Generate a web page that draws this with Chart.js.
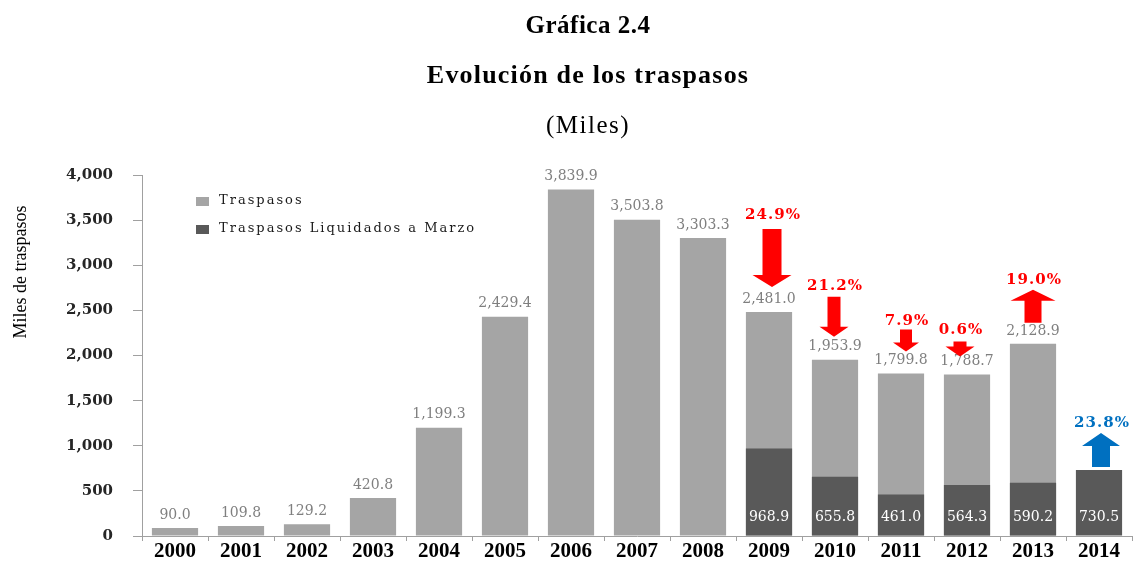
<!DOCTYPE html>
<html><head><meta charset="utf-8">
<script src="https://cdn.jsdelivr.net/npm/chart.js@4.4.0/dist/chart.umd.min.js"></script>
<style>
html,body{margin:0;padding:0;background:#fff;}
#wrap{position:relative;width:1135px;height:565px;overflow:hidden;}
#c{position:absolute;left:0;top:0;}
.t{position:absolute;left:588px;transform:translateX(-50%);font-family:"Liberation Serif",serif;color:#000;white-space:nowrap;line-height:1;}
#t1{top:12px;font-size:25px;font-weight:bold;letter-spacing:0.5px;}
#t2{top:62px;font-size:26px;font-weight:bold;letter-spacing:1.2px;}
#t3{top:112px;font-size:25px;letter-spacing:1.5px;}
</style></head><body>
<div id="wrap">
<canvas id="c" width="1135" height="565"></canvas>
<div class="t" id="t1">Gráfica 2.4</div>
<div class="t" id="t2">Evolución de los traspasos</div>
<div class="t" id="t3">(Miles)</div>
</div>
<script>
const years = ['2000','2001','2002','2003','2004','2005','2006','2007','2008','2009','2010','2011','2012','2013','2014'];
const traspasos = [90.0,109.8,129.2,420.8,1199.3,2429.4,3839.9,3503.8,3303.3,2481.0,1953.9,1799.8,1788.7,2128.9,null];
const liquidados = [null,null,null,null,null,null,null,null,null,968.9,655.8,461.0,564.3,590.2,730.5];
const yMin = 0, yMax = 4000, yStep = 500;
const changeYears = ['2009','2010','2011','2012','2013','2014'];
const changePct = ['24.9%','21.2%','7.9%','0.6%','19.0%','23.8%'];
const changeDir = ['down','down','down','down','up','up'];
const seriesNames = ['Traspasos','Traspasos Liquidados a Marzo'];
const yTitle = 'Miles de traspasos';

// arrow styling (pixels)
const arrowStyle = [
  {gap:25,len:58,head:12,sw:19,hw:39,dx:3,lg:14,color:'#FF0000'},
  {gap:23,len:40,head:10,sw:13,hw:29,dx:-1,lg:11,color:'#FF0000'},
  {gap:22,len:22,head:9,sw:12,hw:26,dx:5,lg:8,color:'#FF0000'},
  {gap:18,len:15,head:10,sw:13,hw:29,dx:-7,lg:11,color:'#FF0000'},
  {gap:21,len:33,head:11,sw:17,hw:45,dx:0,lg:10,color:'#FF0000'},
  {gap:3,len:34,head:13,sw:18,hw:38,dx:2,lg:10,color:'#0070C0'}
];

const fmt1 = new Intl.NumberFormat('en-US',{minimumFractionDigits:1,maximumFractionDigits:1});
const fmt0 = new Intl.NumberFormat('en-US');

const decor = {
  id:'decor',
  afterDatasetsDraw(chart){
    const ctx = chart.ctx;
    const m0 = chart.getDatasetMeta(0), m1 = chart.getDatasetMeta(1);
    ctx.save();
    // light bar labels
    ctx.font = '14px "DejaVu Serif"';
    ctx.fillStyle = '#7F7F7F';
    ctx.textAlign = 'center';
    ctx.textBaseline = 'middle';
    m0.data.forEach((el,i)=>{
      const v = traspasos[i];
      if(v==null) return;
      ctx.fillText(fmt1.format(v), el.x, el.y - 13);
    });
    // dark bar labels
    ctx.fillStyle = '#FFFFFF';
    ctx.font = '14px "DejaVu Serif"';
    m1.data.forEach((el,i)=>{
      const v = liquidados[i];
      if(v==null) return;
      ctx.fillText(fmt1.format(v), el.x, el.base - 18);
    });
    // arrows
    changeYears.forEach((yr,k)=>{
      const i = years.indexOf(yr);
      const st = arrowStyle[k];
      let top;
      const v = traspasos[i]!=null ? traspasos[i] : liquidados[i];
      const ytop = chart.scales.y.getPixelForValue(v);
      const cx = chart.scales.x.getPixelForValue(i) + st.dx;
      ctx.fillStyle = st.color;
      ctx.beginPath();
      if(changeDir[k]==='down'){
        const tip = ytop - st.gap; top = tip - st.len; const hb = tip - st.head;
        ctx.moveTo(cx - st.sw/2, top);
        ctx.lineTo(cx + st.sw/2, top);
        ctx.lineTo(cx + st.sw/2, hb);
        ctx.lineTo(cx + st.hw/2, hb);
        ctx.lineTo(cx, tip);
        ctx.lineTo(cx - st.hw/2, hb);
        ctx.lineTo(cx - st.sw/2, hb);
      } else {
        const bottom = ytop - st.gap; const tip = bottom - st.len; top = tip; const hb = tip + st.head;
        ctx.moveTo(cx - st.sw/2, bottom);
        ctx.lineTo(cx + st.sw/2, bottom);
        ctx.lineTo(cx + st.sw/2, hb);
        ctx.lineTo(cx + st.hw/2, hb);
        ctx.lineTo(cx, tip);
        ctx.lineTo(cx - st.hw/2, hb);
        ctx.lineTo(cx - st.sw/2, hb);
      }
      ctx.closePath();
      ctx.fill();
      ctx.font = 'bold 15px "DejaVu Serif"';
      try{ ctx.letterSpacing = '1px'; }catch(e){}
      ctx.fillText(changePct[k], cx + 1, top - st.lg);
      try{ ctx.letterSpacing = '0px'; }catch(e){}
    });
    // legend
    const colors = chart.data.datasets.map(d=>d.backgroundColor);
    const ly = [201, 229];
    ctx.textAlign = 'left';
    ctx.font = '13px "DejaVu Serif"';
    try{ ctx.letterSpacing = '2px'; }catch(e){}
    chart.data.datasets.forEach((d,j)=>{
      ctx.fillStyle = colors[j];
      ctx.fillRect(196, ly[j]-4, 13, 9);
      ctx.fillStyle = '#1a1a1a';
      ctx.fillText(d.label, 219, ly[j]);
    });
    try{ ctx.letterSpacing = '0px'; }catch(e){}
    // y title
    ctx.save();
    ctx.translate(21, 272);
    ctx.rotate(-Math.PI/2);
    ctx.textAlign = 'center';
    ctx.font = '18px "Liberation Serif"';
    ctx.fillStyle = '#000';
    ctx.fillText(yTitle, 0, 0);
    ctx.restore();
    ctx.restore();
  }
};

new Chart(document.getElementById('c'), {
  type:'bar',
  data:{
    labels: years,
    datasets:[
      {label: seriesNames[0], data: traspasos, backgroundColor:'#A5A5A5', order:2, grouped:false,
       barPercentage:0.7, categoryPercentage:1.0},
      {label: seriesNames[1], data: liquidados, backgroundColor:'#595959', order:1, grouped:false,
       barPercentage:0.7, categoryPercentage:1.0}
    ]
  },
  plugins:[decor],
  options:{
    responsive:false,
    animation:false,
    devicePixelRatio:1,
    layout:{padding:{top:175,right:3,left:0,bottom:0}},
    plugins:{legend:{display:false},tooltip:{enabled:false},title:{display:false}},
    scales:{
      x:{
        grid:{display:true,drawOnChartArea:false,drawTicks:true,tickLength:5,offset:true,color:'#A0A0A0'},
        border:{display:true,color:'#A0A0A0'},
        ticks:{color:'#000',font:{family:'Liberation Serif',size:21,weight:'bold',lineHeight:1},padding:0,maxRotation:0,autoSkip:false},
        afterFit(s){ s.height = 28; }
      },
      y:{
        min:yMin,max:yMax,
        grid:{display:true,drawOnChartArea:false,drawTicks:true,tickLength:9,color:'#A0A0A0'},
        border:{display:true,color:'#A0A0A0'},
        ticks:{stepSize:yStep,color:'#262626',padding:20,font:{family:'DejaVu Serif',size:15,weight:'bold'},
          callback:(v)=>fmt0.format(v)},
        afterFit(s){ s.width = 142; }
      }
    }
  }
});
</script>
</body></html>
